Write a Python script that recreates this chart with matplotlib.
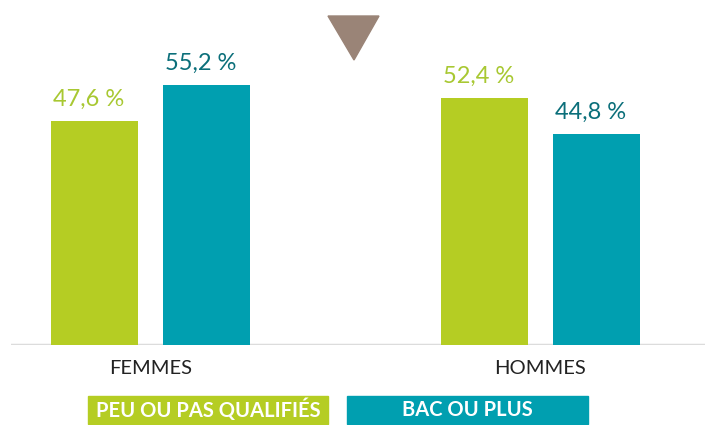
# Bar chart: share by sex and qualification level
import matplotlib.pyplot as plt
from matplotlib.patches import Polygon, Rectangle

plt.rcParams['font.family'] = ['Lato', 'DejaVu Sans']

groups = ['FEMMES', 'HOMMES']
series = ['PEU OU PAS QUALIFIÉS', 'BAC OU PLUS']
peu_qualifies = [47.6, 52.4]
bac_ou_plus = [55.2, 44.8]

green = '#b5cd23'
teal = '#009fb0'
label_colors = ['#a8c832', '#0b6f7a']

W, H = 705, 425
fig = plt.figure(figsize=(W / 100, H / 100), dpi=100)

# axes: from x=11px to right edge, baseline at y=345px
base = 345
ax = fig.add_axes([11 / W, (H - base) / H, 1 - 11 / W, base / H])
unit = 390.0  # pixels between group centres
c0 = 150.5
ax.set_xlim((11 - c0) / unit, (W - c0) / unit)
ax.set_ylim(0, base / 4.71)

width = 87 / unit
off = 56 / unit
xs = range(len(groups))
for vals, sign, col, lcol in [(peu_qualifies, -1, green, label_colors[0]),
                              (bac_ou_plus, 1, teal, label_colors[1])]:
    pos = [x + sign * off for x in xs]
    ax.bar(pos, vals, width=width, color=col, zorder=2)
    for p, v in zip(pos, vals):
        ax.text(p - 0.015, v + 2.4, f'{v:.1f} %'.replace('.', ','),
                ha='center', va='bottom', fontsize=17, color=lcol)

ax.axhline(0, color='#dcdcdc', lw=2.5, zorder=1)
for s in ax.spines.values():
    s.set_visible(False)
ax.set_xticks([])
ax.set_yticks([])

# group labels
for x, g in zip(xs, groups):
    ax.text(x, -23 / 4.71, g, ha='center', va='center', fontsize=14.5,
            color='#222222')

# legend boxes
boxes = [(88, 328, green), (347, 588, teal)]
for (x0, x1, col), name in zip(boxes, series):
    fig.patches.append(Rectangle((x0 / W, 1 - 424 / H), (x1 - x0) / W, 28 / H,
                                 transform=fig.transFigure, color=col))
    fig.text((x0 + x1) / 2 / W, 1 - 410 / H, name, ha='center', va='center',
             fontsize=14.5, fontweight='bold', color='white')

# decorative triangle
fig.patches.append(Polygon([(328 / W, 1 - 16 / H), (379 / W, 1 - 16 / H),
                            (354 / W, 1 - 60 / H)],
                           closed=True, transform=fig.transFigure,
                           color='#9a8477'))

fig.savefig('out.png', dpi=100)
